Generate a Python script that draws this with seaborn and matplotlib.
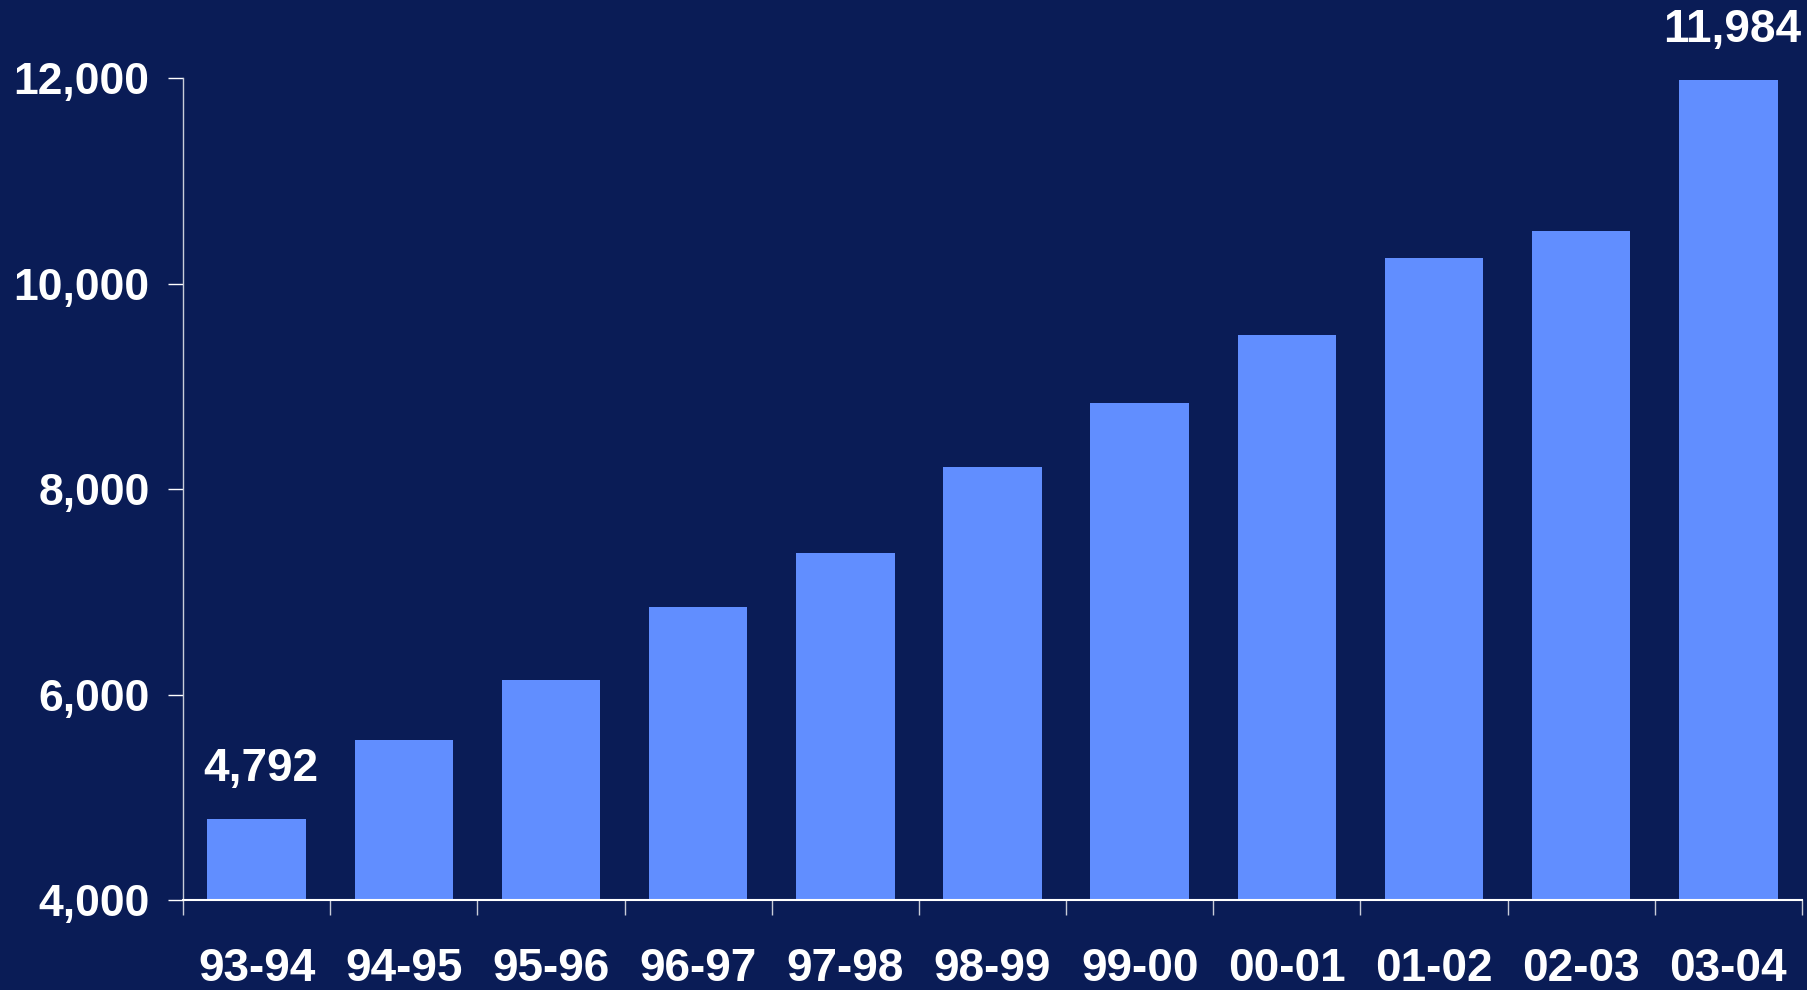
"""Bar chart of yearly totals, 93-94 to 03-04, on a dark navy background."""

import matplotlib
matplotlib.use("Agg")
import matplotlib.pyplot as plt
from matplotlib.ticker import FuncFormatter, FixedLocator
import seaborn as sns
import pandas as pd

# data
years = ["93-94", "94-95", "95-96", "96-97", "97-98", "98-99",
         "99-00", "00-01", "01-02", "02-03", "03-04"]
totals = [4792, 5553, 6138, 6847, 7376, 8219, 8838, 9502, 10245, 10515, 11984]
labelled = {"93-94": "4,792", "03-04": "11,984"}
y_ticks = [4000, 6000, 8000, 10000, 12000]

BG = "#0A1C56"
BAR = "#618EFF"

sns.set_style("dark")
plt.rcParams["font.family"] = ["Liberation Sans", "DejaVu Sans"]
plt.rcParams["font.weight"] = "bold"

df = pd.DataFrame({"year": years, "total": totals})

fig = plt.figure(figsize=(18.07, 9.9), dpi=100, facecolor=BG)
ax = fig.add_axes([0.1013, 0.0909, 0.8959, 0.8303])
ax.set_facecolor(BG)

sns.barplot(data=df, x="year", y="total", color=BAR, width=0.67,
            saturation=1, linewidth=0, edgecolor=BAR, ax=ax)

ax.set_ylim(4000, 12000)
ax.set_xlim(-0.5, len(years) - 0.5)
ax.set_xlabel("")
ax.set_ylabel("")
ax.grid(False)

ax.yaxis.set_major_locator(FixedLocator(y_ticks))
ax.yaxis.set_major_formatter(FuncFormatter(lambda v, _: f"{int(v):,}"))
ax.tick_params(axis="y", which="major", left=True, length=11, width=1,
               color="white", pad=13, labelsize=32, labelcolor="white")

# category labels at centres, tick marks at boundaries
ax.set_xticks(range(len(years)))
ax.set_xticklabels(years)
ax.tick_params(axis="x", which="major", length=0, pad=34,
               labelsize=33, labelcolor="white")
ax.set_xticks([i - 0.5 for i in range(len(years) + 1)], minor=True)
ax.tick_params(axis="x", which="minor", bottom=True, length=11, width=1,
               color="#C8CCD8")
for lab in ax.get_xticklabels() + ax.get_yticklabels():
    lab.set_fontweight("bold")

for side in ("top", "right"):
    ax.spines[side].set_visible(False)
ax.spines["left"].set_color("#C8CCD8")
ax.spines["left"].set_linewidth(1)
ax.spines["bottom"].set_color("white")
ax.spines["bottom"].set_linewidth(1.5)

for i, (yr, val) in enumerate(zip(years, totals)):
    if yr in labelled:
        ax.annotate(labelled[yr], (i, val), xytext=(3, 20),
                    textcoords="offset points", ha="center", va="bottom",
                    fontsize=33, fontweight="bold", color="white",
                    annotation_clip=False)

fig.savefig("out.png", dpi=100, facecolor=BG)
plt.close(fig)
